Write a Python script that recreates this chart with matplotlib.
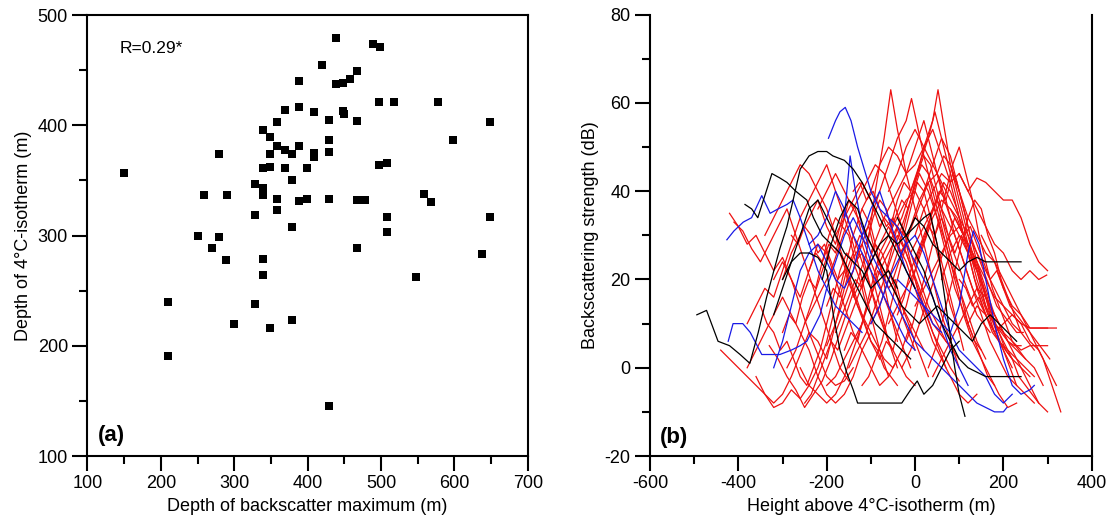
import matplotlib
matplotlib.use("Agg")
import matplotlib.pyplot as plt
from matplotlib.ticker import MultipleLocator

plt.rcParams['font.family'] = ['Liberation Sans', 'DejaVu Sans']
plt.rcParams['axes.unicode_minus'] = False

# panel (a): depth of backscatter maximum vs depth of 4C isotherm
bs_depth = [388, 369, 388, 359, 339, 349, 359, 369, 379, 388, 349, 279, 150, 339, 349,
            369, 379, 328, 339, 339, 259, 290, 359, 388, 359, 328, 379, 250, 279, 270,
            439, 489, 499, 419, 468, 458, 448, 439, 498, 518, 578, 409, 448, 449, 429,
            468, 648, 598, 429, 409, 409, 429, 399, 498, 508, 399, 429, 468, 478, 558,
            568, 508, 648, 508, 468, 289, 339, 339, 210, 329, 300, 349, 379, 210, 638,
            548, 429]
iso_depth = [440, 414, 417, 403, 396, 389, 381, 378, 374, 381, 374, 374, 357, 361, 362,
             361, 350, 347, 343, 337, 337, 337, 333, 331, 323, 319, 308, 300, 299, 289,
             479, 474, 471, 455, 449, 442, 438, 437, 421, 421, 421, 412, 413, 410, 405,
             404, 403, 387, 387, 375, 371, 376, 361, 364, 366, 333, 333, 332, 332, 338,
             330, 317, 317, 303, 289, 278, 279, 264, 240, 238, 220, 216, 223, 191, 283,
             262, 145]

# panel (b): backscatter profiles vs height above 4C isotherm
red_profiles = [
    ([-440, -420, -400, -380, -360, -340, -320, -300, -280, -260, -240, -220, -200, -180, -160, -140, -120, -100, -80, -60, -40],
     [4, 2, 0, -2, -4, -6, -8, -6, -2, 3, 8, 6, 2, 10, 18, 25, 28, 22, 14, 6, 0]),
    ([-420, -400, -380, -360, -340, -320, -300, -280, -260, -240, -220, -200, -180, -160, -140],
     [35, 32, 28, 30, 26, 22, 25, 20, 14, 8, 3, -2, -4, -3, 0]),
    ([-410, -390, -370, -350, -330, -310, -290, -270, -250, -230, -210, -190, -170, -150],
     [33, 31, 27, 24, 28, 32, 36, 30, 24, 18, 12, 6, 0, -3]),
    ([-380, -360, -340, -320, -300, -280, -260, -240, -220, -200, -180, -160, -140, -120, -100, -80, -60],
     [10, 14, 18, 16, 22, 28, 34, 38, 42, 46, 40, 34, 28, 20, 12, 4, -2]),
    ([-360, -340, -320, -300, -280, -260, -240, -220, -200, -180, -160, -140, -120, -100, -80, -60, -40],
     [-2, -6, -9, -8, -5, -7, -4, 0, 6, 14, 22, 30, 36, 32, 24, 14, 6]),
    ([-330, -310, -290, -270, -250, -230, -210, -190, -170, -150, -130, -110, -90, -70, -55, -40, -20, 0, 20, 40, 60, 80, 100],
     [5, 2, -2, -5, -9, -6, -3, 2, 8, 14, 20, 26, 40, 52, 63, 54, 44, 36, 28, 20, 12, 6, 0]),
    ([-300, -280, -260, -240, -220, -200, -180, -160, -140, -120, -100, -80, -60, -40, -20, 0],
     [20, 26, 30, 34, 38, 32, 28, 36, 30, 24, 18, 12, 6, 2, -2, -4]),
    ([-290, -270, -250, -230, -210, -190, -170, -150, -130, -110, -90, -70, -50, -30, -10],
     [0, 4, 10, 16, 22, 28, 26, 20, 14, 10, 6, 2, 0, 4, 10]),
    ([-100, -80, -60, -40, -20, 0, 20, 40, 52, 65, 80, 100, 120, 140, 160, 180, 200, 220],
     [10, 14, 20, 26, 34, 42, 50, 56, 63, 55, 46, 38, 30, 22, 14, 8, 4, 0]),
    ([-200, -180, -160, -140, -120, -100, -80, -60, -40, -20, -8, 5, 20, 40, 60, 80, 100, 120, 140, 160],
     [5, 10, 16, 22, 28, 34, 40, 46, 52, 56, 61, 55, 48, 40, 32, 24, 18, 12, 6, 2]),
    ([0, 20, 40, 60, 80, 100, 120, 140, 160, 180, 200, 220, 240, 260, 280, 300],
     [30, 36, 40, 44, 42, 44, 40, 43, 42, 40, 38, 38, 34, 28, 24, 22]),
    ([20, 40, 60, 80, 100, 120, 140, 160, 180, 200, 220, 240, 260, 280, 320],
     [40, 46, 52, 48, 40, 34, 30, 26, 24, 18, 14, 12, 9, 9, 9]),
    ([-50, -30, -10, 10, 30, 50, 70, 90, 110, 130, 150, 170, 190, 210, 230, 250, 270],
     [20, 26, 32, 38, 42, 44, 38, 30, 24, 18, 12, 6, 2, -2, -4, -6, -8]),
    ([150, 170, 190, 210, 230, 250, 270, 290, 310, 330],
     [30, 26, 22, 18, 14, 10, 6, 2, -4, -10]),
    ([60, 80, 100, 120, 140, 160, 180, 200, 220, 240, 260, 280, 300],
     [20, 26, 30, 28, 24, 18, 12, 8, 6, 4, 5, 5, 5]),
    ([-150, -130, -110, -90, -70, -50, -30, -10, 10, 30, 50, 70, 90, 110, 130, 150, 170, 190, 210, 230],
     [0, 4, 8, 14, 20, 26, 32, 38, 44, 40, 34, 28, 20, 12, 6, 2, -2, -6, -9, -8]),
    ([-250, -230, -210, -190, -170, -150, -130, -110, -90, -70, -50, -30, -10, 10, 30, 50, 70, 90],
     [10, 14, 18, 22, 28, 34, 38, 42, 46, 44, 38, 32, 26, 20, 14, 10, 6, 4]),
    ([-200, -180, -160, -140, -120, -100, -80, -60, -40, -20, 0, 20, 40, 60, 80, 100],
     [-4, -2, 2, 6, 10, 16, 22, 26, 30, 26, 20, 14, 8, 4, 0, -3]),
    ([-120, -100, -80, -60, -40, -20, 0, 20, 40, 60, 80, 100, 120, 140, 160, 180],
     [36, 40, 46, 50, 48, 44, 46, 50, 54, 48, 42, 34, 26, 18, 12, 8]),
    ([-60, -40, -20, 0, 20, 40, 60, 80, 100, 120, 140, 160, 180, 200, 220, 240, 260],
     [10, 14, 18, 22, 28, 34, 38, 36, 32, 28, 22, 16, 10, 6, 2, 0, -2]),
    ([-320, -300, -280, -260, -240, -220, -200, -180, -160, -140, -120, -100, -80, -60, -40],
     [20, 24, 20, 16, 22, 28, 26, 20, 14, 8, 4, 0, -4, -2, 2]),
    ([-260, -240, -220, -200, -180, -160, -140, -120, -100, -80, -60, -40, -20, 0, 20, 40, 60, 80, 100],
     [0, -4, -6, -8, -6, -2, 4, 10, 18, 26, 30, 34, 38, 40, 36, 30, 22, 14, 8]),
    ([-180, -160, -140, -120, -100, -80, -60, -40, -20, 0, 20, 40, 60, 80, 100, 120, 140],
     [30, 34, 38, 42, 38, 32, 36, 40, 44, 50, 56, 48, 40, 34, 30, 26, 22]),
    ([-30, -10, 10, 30, 50, 70, 90, 110, 130, 150, 170, 190, 210, 230, 250, 270, 290],
     [0, 4, 10, 16, 22, 28, 34, 30, 26, 20, 14, 10, 6, 4, 2, 0, -4]),
    ([100, 120, 140, 160, 180, 200, 220, 240, 260, 280, 298],
     [44, 40, 36, 32, 28, 26, 22, 20, 22, 20, 21]),
    ([-140, -120, -100, -80, -60, -40, -20, 0, 20, 40, 60, 80, 100, 120, 140],
     [16, 20, 24, 28, 32, 28, 24, 18, 12, 6, 2, -2, -6, -8, -6]),
    ([-340, -320, -300, -280, -260, -240, -220, -200, -180, -160, -140, -120, -100, -80],
     [30, 34, 38, 42, 46, 44, 40, 36, 30, 24, 18, 12, 6, 2]),
    ([-90, -70, -50, -30, -10, 10, 30, 45, 60, 80, 100, 120, 140, 160, 180, 200],
     [22, 26, 30, 34, 40, 46, 52, 58, 52, 44, 36, 28, 20, 14, 10, 8]),
    ([0, 20, 40, 60, 80, 100, 120, 140, 160, 180, 200, 220, 240, 260, 280, 300],
     [14, 18, 22, 26, 30, 32, 28, 24, 20, 16, 14, 12, 10, 9, 9, 9]),
    ([40, 60, 80, 100, 120, 140, 160, 180, 200, 220, 240, 260, 280, 300],
     [-2, 2, 6, 10, 14, 18, 16, 12, 8, 4, 0, -4, -8, -10]),
    ([-220, -200, -180, -160, -140, -120, -100, -80, -60, -40, -20, 0, 20],
     [36, 40, 44, 40, 36, 32, 28, 24, 20, 16, 12, 8, 4]),
    ([-380, -360, -340, -320, -300, -280, -260, -240, -220, -200, -180, -160, -140, -120, -100],
     [0, 4, 8, 12, 16, 12, 8, 4, -2, -6, -8, -6, -2, 4, 8]),
    ([-60, -40, -20, 0, 20, 40, 60, 80, 100, 120, 140, 160, 180, 200, 220, 240],
     [40, 44, 50, 54, 50, 46, 42, 38, 34, 30, 26, 22, 18, 14, 10, 8]),
    ([120, 140, 160, 180, 200, 220, 240, 260, 280, 300, 320],
     [10, 14, 12, 8, 10, 12, 10, 6, 4, 0, -4]),
    ([-10, 10, 30, 50, 70, 90, 110, 130, 150, 170, 190, 210, 230, 250, 270],
     [26, 30, 34, 38, 34, 30, 24, 18, 14, 10, 6, 4, 2, 0, -2]),
    ([-300, -285, -270, -255, -240, -225, -210, -195, -180, -165, -150, -135, -120, -105, -90, -75, -60],
     [8, 12, 10, 16, 20, 18, 24, 28, 26, 32, 30, 24, 26, 20, 14, 10, 6]),
    ([-240, -225, -210, -195, -180, -165, -150, -135, -120, -105, -90, -75, -60, -45, -30, -15, 0, 15, 30],
     [22, 26, 24, 30, 34, 32, 38, 36, 30, 32, 26, 22, 18, 20, 14, 10, 6, 2, -2]),
    ([-160, -145, -130, -115, -100, -85, -70, -55, -40, -25, -10, 5, 20, 35, 50, 65, 80, 95, 110],
     [4, 8, 6, 12, 16, 22, 20, 26, 32, 30, 36, 42, 40, 34, 28, 22, 16, 10, 4]),
    ([-80, -65, -50, -35, -20, -5, 10, 25, 40, 55, 70, 85, 100, 115, 130, 145, 160, 175, 190, 205, 220],
     [2, 6, 4, 10, 14, 20, 26, 30, 36, 40, 38, 44, 40, 34, 28, 22, 16, 12, 8, 4, 2]),
    ([-20, -5, 10, 25, 40, 55, 70, 85, 100, 115, 130, 145, 160, 175, 190, 205, 220, 235, 250],
     [6, 10, 16, 22, 28, 34, 40, 46, 50, 44, 38, 30, 24, 18, 14, 10, 6, 4, 2]),
    ([30, 45, 60, 75, 90, 105, 120, 135, 150, 165, 180, 195, 210, 225, 240, 255, 270],
     [0, 4, 10, 16, 22, 28, 34, 38, 36, 30, 26, 20, 16, 12, 8, 6, 4]),
    ([-200, -185, -170, -155, -140, -125, -110, -95, -80, -65, -50, -35, -20, -5, 10, 25, 40, 55, 70],
     [14, 18, 16, 22, 26, 30, 28, 34, 38, 36, 30, 26, 28, 22, 16, 12, 8, 4, 0]),
    ([-120, -105, -90, -75, -60, -45, -30, -15, 0, 15, 30, 45, 60, 75, 90, 105, 120, 135, 150],
     [-4, -2, 2, 6, 12, 18, 24, 30, 34, 38, 42, 36, 30, 24, 18, 14, 10, 6, 4]),
    ([-350, -335, -320, -305, -290, -275, -260, -245, -230, -215, -200, -185, -170, -155, -140, -125, -110],
     [14, 10, 8, 4, 6, 2, -2, -4, 0, 4, 10, 16, 22, 26, 24, 20, 14]),
    ([80, 95, 110, 125, 140, 155, 170, 185, 200, 215, 230, 245, 260, 275, 290, 305],
     [36, 34, 30, 32, 28, 24, 20, 22, 18, 14, 12, 10, 8, 6, 4, 2]),
    ([-60, -45, -30, -15, 0, 15, 30, 45, 60, 75, 90, 105, 120, 135, 150, 165, 180],
     [30, 34, 38, 36, 42, 46, 44, 40, 34, 28, 22, 16, 10, 6, 2, -2, -4]),
    ([-280, -265, -250, -235, -220, -205, -190, -175, -160, -145, -130, -115, -100, -85, -70, -55, -40],
     [30, 28, 32, 30, 26, 28, 24, 20, 22, 18, 14, 10, 6, 4, 0, -2, -4]),
    ([0, 15, 30, 45, 60, 75, 90, 105, 120, 135, 150, 165, 180, 195, 210, 225, 240],
     [24, 28, 32, 30, 34, 30, 26, 30, 26, 20, 16, 12, 10, 8, 6, 5, 5]),
    ([-100, -85, -70, -55, -40, -25, -10, 5, 20, 35, 50, 65, 80, 95, 110, 125, 140, 155, 170],
     [26, 30, 34, 32, 38, 42, 40, 44, 48, 46, 40, 34, 28, 24, 20, 16, 12, 10, 8]),
    ([100, 115, 130, 145, 160, 175, 190, 205, 220, 235, 250, 265, 280],
     [20, 18, 14, 16, 12, 8, 6, 4, 2, -2, -4, -6, -8]),
    ([-180, -165, -150, -135, -120, -105, -90, -75, -60, -45, -30, -15, 0],
     [8, 12, 16, 20, 18, 24, 28, 26, 22, 18, 12, 8, 4]),
    ([50, 65, 80, 95, 110, 125, 140, 155, 170, 185, 200, 215, 230, 245],
     [44, 48, 46, 42, 36, 30, 26, 22, 18, 14, 12, 10, 8, 8]),
    ([-140, -125, -110, -95, -80, -65, -50, -35, -20, -5, 10, 25, 40, 55, 70, 85, 100],
     [40, 42, 38, 40, 36, 32, 34, 30, 26, 22, 18, 14, 10, 8, 6, 4, 2]),
    ([-40, -25, -10, 5, 20, 35, 50, 65, 80, 95, 110, 125, 140, 155, 170, 185, 200, 215, 230],
     [12, 16, 22, 26, 30, 34, 38, 42, 40, 36, 30, 26, 22, 18, 12, 8, 4, 0, -4]),
    ([-250, -235, -220, -205, -190, -175, -160, -145, -130, -115, -100, -85, -70, -55, -40, -25, -10],
     [-8, -6, -2, 2, 6, 4, 8, 12, 16, 20, 24, 20, 16, 12, 8, 4, 0]),
]

blue_profiles = [
    ([-196, -180, -170, -158, -145, -130, -118, -100, -80, -60, -40, -20, 0, 20, 40, 60, 80, 100, 120],
     [52, 56, 58, 59, 56, 50, 46, 40, 36, 34, 32, 28, 24, 20, 16, 10, 4, 0, -4]),
    ([-426, -410, -389, -370, -347, -328, -310, -290, -276, -260, -240, -220, -200, -180, -160, -140, -120],
     [29, 31, 33, 34, 39, 35, 36, 37, 38, 34, 28, 22, 18, 14, 12, 10, 8]),
    ([-423, -412, -390, -373, -347, -330, -306, -280, -260, -245, -230, -215, -200, -180, -160, -140, -120, -100],
     [6, 10, 10, 8, 3, 3, 3, 4, 5, 6, 9, 12, 18, 24, 30, 34, 30, 24]),
    ([-320, -300, -280, -260, -240, -220, -200, -180, -160, -140, -120, -100, -80, -60, -40, -20, 0, 20, 40, 60],
     [0, 6, 14, 22, 26, 28, 24, 20, 18, 22, 30, 36, 40, 34, 28, 22, 18, 14, 10, 8]),
    ([-40, -20, 0, 20, 40, 60, 80, 100, 120, 132, 145, 160, 180, 200, 220, 240, 260, 270],
     [20, 18, 16, 14, 12, 10, 8, 14, 26, 31, 28, 20, 10, 2, -4, -6, -5, -4]),
    ([-160, -147, -135, -120, -100, -80, -60, -40, -20, 0, 20, 40, 60, 80, 100, 120, 140, 160, 180, 200, 208],
     [34, 48, 40, 32, 26, 22, 18, 14, 10, 6, 4, 2, 0, -2, -4, -6, -8, -9, -10, -10, -9]),
    ([-100, -80, -60, -40, -20, 0, 20, 40, 60, 80, 100, 120, 140, 160, 180, 200, 220],
     [10, 14, 20, 24, 28, 30, 26, 20, 14, 8, 4, 2, 0, -2, -6, -8, -6]),
    ([-240, -220, -200, -180, -160, -140, -120, -100, -80, -60, -40, -20, 0],
     [28, 30, 34, 40, 36, 30, 26, 22, 18, 14, 10, 6, 4]),
]

black_profiles = [
    ([-494, -472, -446, -420, -396, -374, -355, -336, -306, -290, -276, -260, -240, -220, -200, -186, -160, -140, -120, -100, -80, -60, -40, -20, 0],
     [12, 13, 6, 5, 3, 1, 8, 16, 27, 32, 38, 45, 48, 49, 49, 48, 47, 45, 42, 38, 34, 30, 26, 22, 18]),
    ([-385, -370, -356, -340, -324, -306, -290, -270, -245, -230, -210, -190, -170, -150, -130, -110, -90, -70, -50, -30, -10],
     [37, 36, 34, 39, 44, 43, 42, 40, 38, 34, 30, 28, 26, 22, 18, 14, 10, 8, 6, 4, 2]),
    ([-300, -280, -260, -240, -220, -200, -185, -170, -155, -140, -130, -100, -60, -30, -10, 5, 20, 40, 60, 80, 100],
     [20, 24, 26, 26, 25, 22, 12, 4, -1, -5, -8, -8, -8, -8, -5, -3, -6, -4, 0, 4, 6]),
    ([-120, -100, -80, -60, -40, -20, 0, 20, 34, 50, 70, 90, 100, 113],
     [20, 24, 28, 30, 28, 30, 32, 34, 35, 28, 14, 0, -6, -11]),
    ([-20, 0, 20, 40, 60, 80, 100, 120, 140, 160, 180, 200, 220, 240],
     [30, 34, 32, 28, 26, 24, 22, 24, 25, 24, 24, 24, 24, 24]),
    ([-40, -20, 0, 20, 40, 60, 80, 100, 120, 140, 160, 180, 200, 220, 240],
     [34, 30, 26, 22, 16, 10, 6, 2, 0, -1, -2, -2, -2, -2, -2]),
    ([-320, -300, -280, -260, -240, -220, -200, -180, -160, -140, -120, -100, -80, -60, -40],
     [12, 18, 24, 30, 36, 38, 34, 30, 26, 24, 22, 18, 20, 22, 18]),
    ([-210, -190, -170, -150, -130, -110, -90, -70, -50, -30, -10, 10, 30, 50, 70, 90, 110, 130, 150, 170, 190, 210, 230],
     [20, 28, 34, 38, 36, 30, 26, 22, 18, 14, 12, 10, 12, 14, 12, 10, 8, 6, 10, 12, 10, 8, 6]),
]

fig = plt.figure(figsize=(11.14, 5.25), dpi=100)
ax1 = fig.add_axes([0.0785, 0.1314, 0.3952, 0.84])
ax2 = fig.add_axes([0.5835, 0.1314, 0.3965, 0.8406])

# (a) scatter
ax1.scatter(bs_depth, iso_depth, marker='s', s=32, color='black', linewidths=0)
ax1.set_xlim(100, 700)
ax1.set_ylim(100, 500)
ax1.xaxis.set_major_locator(MultipleLocator(100))
ax1.xaxis.set_minor_locator(MultipleLocator(50))
ax1.yaxis.set_major_locator(MultipleLocator(100))
ax1.yaxis.set_minor_locator(MultipleLocator(50))
ax1.set_xlabel('Depth of backscatter maximum (m)', fontsize=13)
ax1.set_ylabel('Depth of 4°C-isotherm (m)', fontsize=13)
ax1.text(144, 470, 'R=0.29*', fontsize=12.5, va='center')
ax1.text(114, 119, '(a)', fontsize=16, fontweight='bold', va='center')

# (b) profiles
for x, y in red_profiles:
    ax2.plot(x, y, color='#ee1111', lw=0.9)
for x, y in blue_profiles:
    ax2.plot(x, y, color='#1a1ae6', lw=0.9)
for x, y in black_profiles:
    ax2.plot(x, y, color='black', lw=0.9)
ax2.set_xlim(-600, 400)
ax2.set_ylim(-20, 80)
ax2.xaxis.set_major_locator(MultipleLocator(200))
ax2.xaxis.set_minor_locator(MultipleLocator(100))
ax2.yaxis.set_major_locator(MultipleLocator(20))
ax2.yaxis.set_minor_locator(MultipleLocator(10))
ax2.set_xlabel('Height above 4°C-isotherm (m)', fontsize=13)
ax2.set_ylabel('Backscattering strength (dB)', fontsize=13)
ax2.text(-577, -15.7, '(b)', fontsize=16, fontweight='bold', va='center')
ax2.spines['top'].set_visible(False)

for ax in (ax1, ax2):
    for sp in ax.spines.values():
        sp.set_linewidth(1.5)
    ax.tick_params(which='major', direction='out', length=11, width=1.5, labelsize=13, pad=3)
    ax.tick_params(which='minor', direction='out', length=5.5, width=1.5)
    ax.tick_params(top=False, right=False, which='both')

fig.savefig('out.png', dpi=100)
